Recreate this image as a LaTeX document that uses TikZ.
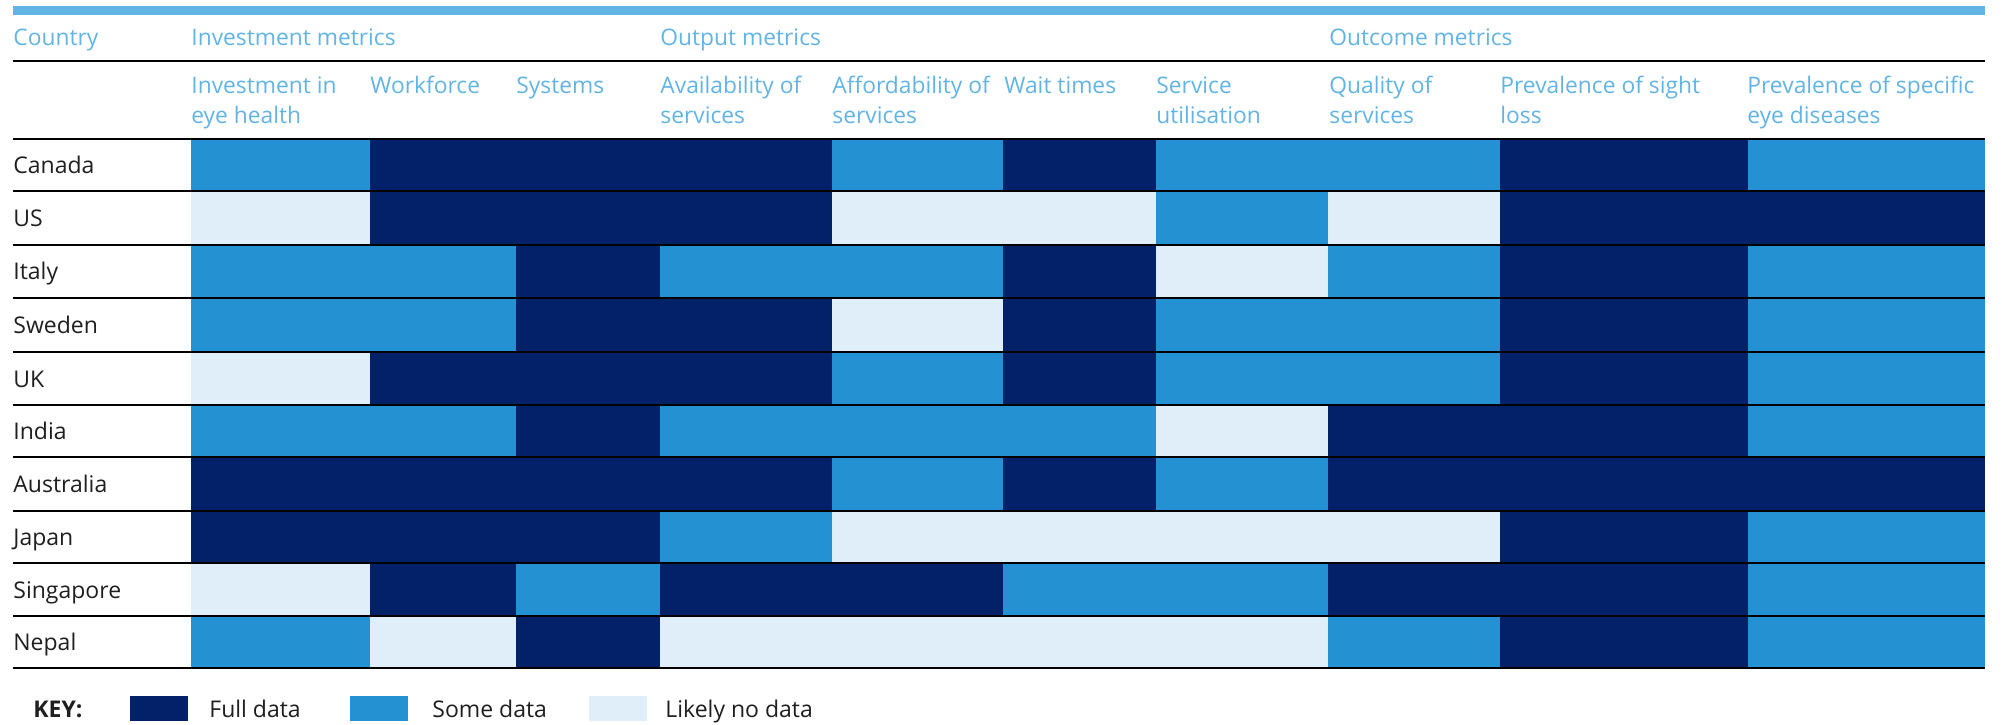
\documentclass[tikz,border=0pt]{standalone}
\usepackage{fontspec}
\setmainfont{Open Sans}
\usepackage{tikz}
\usetikzlibrary{positioning}
\usepackage{xcolor}
\definecolor{fullc}{HTML}{022169}
\definecolor{somec}{HTML}{2391D2}
\definecolor{noc}{HTML}{DFEEF8}
\definecolor{headc}{HTML}{62B4E5}
\tikzset{
  hd/.style={anchor=base west, inner sep=0pt, text=headc, align=left,
    font=\fontsize{11.4}{15}\selectfont},
  ctry/.style={anchor=base west, inner sep=0pt, text=black!88,
    font=\fontsize{11.5}{15}\selectfont},
  rule/.style={line width=0.8pt},
  fulld/.style={fill=fullc},
  somed/.style={fill=somec},
  nod/.style={fill=noc}
}

\begin{document}
\begin{tikzpicture}[x=0.5pt,y=-0.5pt]
\useasboundingbox (0,0) rectangle (2002,724);
\fill[headc] (13,6) rectangle (1985,15);
% header (two-line texts sit on their last line)
\node[hd] (country) at (13,45) {Country};
\node[hd] (invm) at (191,45) {Investment metrics};
\node[hd] (outm) at (660,45) {Output metrics};
\node[hd] (ocm) at (1329,45) {Outcome metrics};
\node[hd] (inv) at (191,123) {Investment in\\eye health};
\node[hd] (work) at (370,93) {Workforce};
\node[hd] (sys) at (516,93) {Systems};
\node[hd] (avail) at (660,123) {Availability of\\services};
\node[hd] (afford) at (832,123) {Affordability of\\services};
\node[hd] (wait) at (1004,93) {Wait times};
\node[hd] (util) at (1156,123) {Service\\utilisation};
\node[hd] (qual) at (1329,123) {Quality of\\services};
\node[hd] (sight) at (1500,123) {Prevalence of sight\\loss};
\node[hd] (spec) at (1747,123) {Prevalence of specific\\eye diseases};
% Canada
\fill[somed] (191,139) rectangle (370,191);
\fill[fulld] (370,139) rectangle (832,191);
\fill[somed] (832,139) rectangle (1003,191);
\fill[fulld] (1003,139) rectangle (1156,191);
\fill[somed] (1156,139) rectangle (1500,191);
\fill[fulld] (1500,139) rectangle (1748,191);
\fill[somed] (1748,139) rectangle (1985,191);
% US
\fill[nod] (191,191) rectangle (370,245);
\fill[fulld] (370,191) rectangle (832,245);
\fill[nod] (832,191) rectangle (1156,245);
\fill[somed] (1156,191) rectangle (1328,245);
\fill[nod] (1328,191) rectangle (1500,245);
\fill[fulld] (1500,191) rectangle (1985,245);
% Italy
\fill[somed] (191,245) rectangle (516,298);
\fill[fulld] (516,245) rectangle (660,298);
\fill[somed] (660,245) rectangle (1003,298);
\fill[fulld] (1003,245) rectangle (1156,298);
\fill[nod] (1156,245) rectangle (1328,298);
\fill[somed] (1328,245) rectangle (1500,298);
\fill[fulld] (1500,245) rectangle (1748,298);
\fill[somed] (1748,245) rectangle (1985,298);
% Sweden
\fill[somed] (191,298) rectangle (516,352);
\fill[fulld] (516,298) rectangle (832,352);
\fill[nod] (832,298) rectangle (1003,352);
\fill[fulld] (1003,298) rectangle (1156,352);
\fill[somed] (1156,298) rectangle (1500,352);
\fill[fulld] (1500,298) rectangle (1748,352);
\fill[somed] (1748,298) rectangle (1985,352);
% UK
\fill[nod] (191,352) rectangle (370,405);
\fill[fulld] (370,352) rectangle (832,405);
\fill[somed] (832,352) rectangle (1003,405);
\fill[fulld] (1003,352) rectangle (1156,405);
\fill[somed] (1156,352) rectangle (1500,405);
\fill[fulld] (1500,352) rectangle (1748,405);
\fill[somed] (1748,352) rectangle (1985,405);
% India
\fill[somed] (191,405) rectangle (516,457);
\fill[fulld] (516,405) rectangle (660,457);
\fill[somed] (660,405) rectangle (1156,457);
\fill[nod] (1156,405) rectangle (1328,457);
\fill[fulld] (1328,405) rectangle (1748,457);
\fill[somed] (1748,405) rectangle (1985,457);
% Australia
\fill[fulld] (191,457) rectangle (832,511);
\fill[somed] (832,457) rectangle (1003,511);
\fill[fulld] (1003,457) rectangle (1156,511);
\fill[somed] (1156,457) rectangle (1328,511);
\fill[fulld] (1328,457) rectangle (1985,511);
% Japan
\fill[fulld] (191,511) rectangle (660,563);
\fill[somed] (660,511) rectangle (832,563);
\fill[nod] (832,511) rectangle (1500,563);
\fill[fulld] (1500,511) rectangle (1748,563);
\fill[somed] (1748,511) rectangle (1985,563);
% Singapore
\fill[nod] (191,563) rectangle (370,616);
\fill[fulld] (370,563) rectangle (516,616);
\fill[somed] (516,563) rectangle (660,616);
\fill[fulld] (660,563) rectangle (1003,616);
\fill[somed] (1003,563) rectangle (1328,616);
\fill[fulld] (1328,563) rectangle (1748,616);
\fill[somed] (1748,563) rectangle (1985,616);
% Nepal
\fill[somed] (191,616) rectangle (370,668);
\fill[nod] (370,616) rectangle (516,668);
\fill[fulld] (516,616) rectangle (660,668);
\fill[nod] (660,616) rectangle (1328,668);
\fill[somed] (1328,616) rectangle (1500,668);
\fill[fulld] (1500,616) rectangle (1748,668);
\fill[somed] (1748,616) rectangle (1985,668);
% rules
\draw[rule] (13,61)--(1985,61);
\draw[rule] (13,139)--(1985,139);
\draw[rule] (13,191)--(1985,191);
\draw[rule] (13,245)--(1985,245);
\draw[rule] (13,298)--(1985,298);
\draw[rule] (13,352)--(1985,352);
\draw[rule] (13,405)--(1985,405);
\draw[rule] (13,457)--(1985,457);
\draw[rule] (13,511)--(1985,511);
\draw[rule] (13,563)--(1985,563);
\draw[rule] (13,616)--(1985,616);
\draw[rule] (13,668)--(1985,668);
% countries
\node[ctry] (canada) at (13,173) {Canada};
\node[ctry] (us) at (13,226) {US};
\node[ctry] (italy) at (13,279) {Italy};
\node[ctry] (sweden) at (13,333) {Sweden};
\node[ctry] (uk) at (13,387) {UK};
\node[ctry] (india) at (13,439) {India};
\node[ctry] (australia) at (13,492) {Australia};
\node[ctry] (japan) at (13,545) {Japan};
\node[ctry] (singapore) at (13,598) {Singapore};
\node[ctry] (nepal) at (13,650) {Nepal};
% key
\node[ctry, font=\fontsize{11.5}{15}\selectfont\bfseries] (key) at (33,717) {KEY:};
\fill[fulld] (130,696) rectangle (188,721);
\node[ctry] (keyfull) at (209,717) {Full data};
\fill[somed] (350,696) rectangle (408,721);
\node[ctry] (keysome) at (432,717) {Some data};
\fill[nod] (589,696) rectangle (647,721);
\node[ctry] (keyno) at (665,717) {Likely no data};
\end{tikzpicture}
\end{document}
